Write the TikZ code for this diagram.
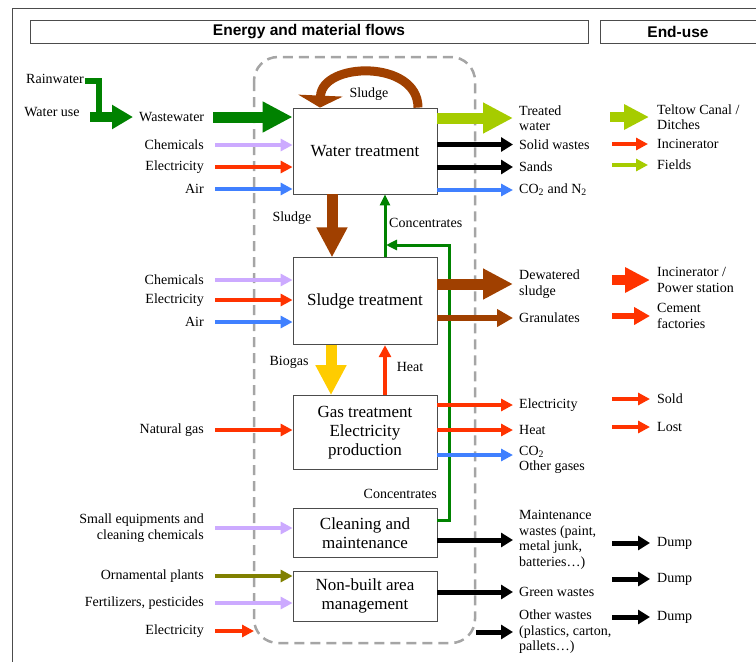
\documentclass[tikz,border=0pt]{standalone}
\usepackage{fontspec}
\setmainfont{Liberation Serif}
\newfontfamily\headfont{Liberation Sans}
\usetikzlibrary{arrows.meta,positioning}

\definecolor{dkgreen}{RGB}{0,130,0}
\definecolor{ltgreen}{RGB}{166,204,0}
\definecolor{sludge}{RGB}{160,64,0}
\definecolor{lilac}{RGB}{204,170,255}
\definecolor{fire}{RGB}{255,51,0}
\definecolor{sky}{RGB}{64,128,255}
\definecolor{gold}{RGB}{255,204,0}
\definecolor{plant}{RGB}{128,128,0}
\definecolor{bound}{RGB}{165,165,165}

\begin{document}
\begin{tikzpicture}[x=1pt, y=-1pt,
    box/.style = {draw=black!70, line width=0.8pt, minimum width=144pt, align=center, inner sep=0pt, font=\fontsize{17}{19}\selectfont},
    lab/.style = {inner sep=0pt, align=left, font=\fontsize{14}{15.5}\selectfont},
    rlab/.style = {lab, align=right, anchor=east},
    head/.style = {inner sep=0pt, font=\headfont\bfseries\fontsize{15.5}{17}\selectfont},
    arr/.style = {line width=4pt, -{Triangle[width=12pt,length=12pt]}},
    warr/.style = {line width=5pt, -{Triangle[width=14pt,length=12pt]}},
    midarr/.style = {line width=6pt, -{Triangle[width=17pt,length=16pt]}},
    wide/.style = {line width=11pt, -{Triangle[width=29pt,length=30pt]}},
    endwide/.style = {line width=10pt, -{Triangle[width=24pt,length=25pt]}},
    thin/.style = {line width=3pt, -{Triangle[width=10pt,length=11pt]}}]
\useasboundingbox (0,0) rectangle (756,662);

\draw[black!70, line width=1pt] (762,8) -| (12,666);
\node[head, draw=black!70, line width=1pt, minimum width=558pt, minimum height=23pt] (emf) at (309,31.5) {Energy and material flows};
\node[head] (eu) at (678,31.5) {End-use};
\draw[black!70, line width=1pt] (762,20) -| (600,43) -- (762,43);

\draw[bound, line width=2.5pt, dash pattern=on 10pt off 6pt, rounded corners=24pt] (254,57) rectangle (475,643);

\node[box, minimum height=86pt] (wt) at (365,151) {Water treatment};
\node[box, minimum height=87pt, below=63pt of wt] (st) {Sludge treatment};
\node[box, minimum height=74pt, below=50pt of st] (gt) {Gas treatment\\Electricity\\production};
\node[box, minimum height=49pt, below=38pt of gt] (cm) {Cleaning and\\maintenance};
\node[box, minimum height=50pt, below=13pt of cm] (nb) {Non-built area\\management};

\node[lab] (rain) at (55,79) {Rainwater};
\node[lab] (wuse) at (52,112) {Water use};
\node[lab, anchor=west] (ww) at (139,117) {Wastewater};
\coordinate (jn) at (99,117);
\draw[dkgreen, line width=6pt] ([xshift=1pt,yshift=-2pt]rain.east) -| (jn);
\draw[dkgreen, line width=10pt, -{Triangle[width=23pt,length=21pt]}] ([xshift=-9pt]jn) -- ([xshift=-6pt]ww.west);
\draw[wide, dkgreen] ([xshift=9pt]ww.east) -- (wt.west |- ww.east);

\node[rlab] (chem1) at (204,145) {Chemicals};
\node[rlab] (elec1) at (204,167) {Electricity};
\node[rlab] (air1) at (204,189) {Air};
\draw[arr, lilac] ([xshift=11pt]chem1.east) -- (wt.west |- chem1.east);
\draw[arr, fire] ([xshift=11pt]elec1.east) -- (wt.west |- elec1.east);
\draw[arr, sky] ([xshift=11pt]air1.east) -- (wt.west |- air1.east);

\node[rlab] (chem2) at (204,280) {Chemicals};
\node[rlab] (elec2) at (204,300) {Electricity};
\node[rlab] (air2) at (204,322) {Air};
\draw[arr, lilac] ([xshift=11pt]chem2.east) -- (st.west |- chem2.east);
\draw[arr, fire] ([xshift=11pt]elec2.east) -- (st.west |- elec2.east);
\draw[arr, sky] ([xshift=11pt]air2.east) -- (st.west |- air2.east);

\node[rlab] (ngas) at (204,430) {Natural gas};
\draw[arr, fire] ([xshift=11pt]ngas.east) -- (gt.west |- ngas.east);

\node[rlab] (smeq) at (204,528) {Small equipments and\\cleaning chemicals};
\node[rlab] (orna) at (204,576) {Ornamental plants};
\node[rlab] (fert) at (204,603) {Fertilizers, pesticides};
\node[rlab] (elec3) at (204,631) {Electricity};
\draw[arr, lilac] ([xshift=11pt]smeq.east) -- (cm.west |- smeq.east);
\draw[arr, plant] ([xshift=11pt]orna.east) -- (nb.west |- orna.east);
\draw[arr, lilac] ([xshift=11pt]fert.east) -- (nb.west |- fert.east);
\draw[arr, fire] ([xshift=11pt]elec3.east) -- ([xshift=50pt]elec3.east);

\draw[sludge, line width=9pt, -{Triangle[width=44pt,length=12pt]}] ([xshift=53pt]wt.north) .. controls +(0,-48) and +(2,-46) .. ([xshift=-45pt]wt.north);
\node[lab] (sl1) at (369,94) {Sludge};
\draw[wide, sludge] ([xshift=-33pt]wt.south) -- ([xshift=-33pt]st.north);
\node[lab] (sl2) at (292,218) {Sludge};

\coordinate (cj) at (385,245);
\coordinate (cc) at (449,245);
\draw[thin, dkgreen] (st.north -| cj) -- (wt.south -| cj);
\draw[thin, dkgreen] ([yshift=12pt]cm.east) -| (cc) -- ([xshift=1pt]cj);
\node[lab, anchor=west] (con1) at (389,223) {Concentrates};
\node[lab, anchor=east] (con2) at (437,494) {Concentrates};

\draw[wide, gold] ([xshift=-34pt]st.south) -- ([xshift=-34pt]gt.north);
\node[lab] (bio) at (289,362) {Biogas};
\draw[arr, fire] (gt.north -| cj) -- (st.south -| cj);
\node[lab] (heat1) at (410,367) {Heat};

\node[lab, anchor=west] (tw) at (519,118) {Treated\\water};
\node[lab, anchor=west] (sw) at (519,144.5) {Solid wastes};
\node[lab, anchor=west] (sa) at (519,167) {Sands};
\node[lab, anchor=west] (co1) at (519,190) {CO\textsubscript{2} and N\textsubscript{2}};
\draw[wide, ltgreen] (wt.east |- tw.west) -- ([xshift=-6pt]tw.west);
\draw[warr, black] (wt.east |- sw.west) -- ([xshift=-6pt]sw.west);
\draw[warr, black] (wt.east |- sa.west) -- ([xshift=-6pt]sa.west);
\draw[arr, sky] (wt.east |- co1.west) -- ([xshift=-6pt]co1.west);

\node[lab, anchor=west] (dw) at (519,284) {Dewatered\\sludge};
\node[lab, anchor=west] (gran) at (519,318) {Granulates};
\draw[wide, sludge] (st.east |- dw.west) -- ([xshift=-6pt]dw.west);
\draw[midarr, sludge] (st.east |- gran.west) -- ([xshift=-6pt]gran.west);

\node[lab, anchor=west] (elec4) at (519,405) {Electricity};
\node[lab, anchor=west] (heat2) at (519,430) {Heat};
\node[lab, anchor=west] (co2) at (519,460) {CO\textsubscript{2}\\Other gases};
\coordinate (co2in) at ([xshift=-6pt,yshift=5pt]co2.west);
\draw[arr, fire] (gt.east |- elec4.west) -- ([xshift=-6pt]elec4.west);
\draw[arr, fire] (gt.east |- heat2.west) -- ([xshift=-6pt]heat2.west);
\draw[arr, sky] (gt.east |- co2in) -- (co2in);

\node[lab, anchor=west] (mw) at (519,540) {Maintenance\\wastes (paint,\\metal junk,\\batteries…)};
\node[lab, anchor=west] (gw) at (519,592) {Green wastes};
\node[lab, anchor=west] (ow) at (519,632) {Other wastes\\(plastics, carton,\\pallets…)};
\draw[warr, black] (cm.east |- mw.west) -- ([xshift=-6pt]mw.west);
\draw[warr, black] (nb.east |- gw.west) -- ([xshift=-6pt]gw.west);
\draw[warr, black] ([xshift=-43pt]ow.west) -- ([xshift=-6pt]ow.west);

\node[lab, anchor=west] (tc) at (657,117) {Teltow Canal /\\Ditches};
\node[lab, anchor=west] (inc) at (657,144) {Incinerator};
\node[lab, anchor=west] (fi) at (657,165) {Fields};
\draw[endwide, ltgreen] ([xshift=-47pt]tc.west) -- ([xshift=-8pt]tc.west);
\draw[arr, fire] ([xshift=-45pt]inc.west) -- ([xshift=-9pt]inc.west);
\draw[arr, ltgreen] ([xshift=-45pt]fi.west) -- ([xshift=-9pt]fi.west);

\node[lab, anchor=west] (ps) at (657,280) {Incinerator /\\Power station};
\node[lab, anchor=west] (cf) at (657,316) {Cement\\factories};
\draw[endwide, fire] ([xshift=-45pt]ps.west) -- ([xshift=-7pt]ps.west);
\draw[midarr, fire] ([xshift=-45pt]cf.west) -- ([xshift=-7pt]cf.west);

\node[lab, anchor=west] (sold) at (657,399) {Sold};
\node[lab, anchor=west] (lost) at (657,427) {Lost};
\draw[arr, fire] ([xshift=-45pt]sold.west) -- ([xshift=-7pt]sold.west);
\draw[arr, fire] ([xshift=-45pt]lost.west) -- ([xshift=-7pt]lost.west);

\node[lab, anchor=west] (dump1) at (657,543) {Dump};
\node[lab, anchor=west] (dump2) at (657,579) {Dump};
\node[lab, anchor=west] (dump3) at (657,617) {Dump};
\draw[warr, black] ([xshift=-45pt]dump1.west) -- ([xshift=-7pt]dump1.west);
\draw[warr, black] ([xshift=-45pt]dump2.west) -- ([xshift=-7pt]dump2.west);
\draw[warr, black] ([xshift=-45pt]dump3.west) -- ([xshift=-7pt]dump3.west);
\end{tikzpicture}
\end{document}
